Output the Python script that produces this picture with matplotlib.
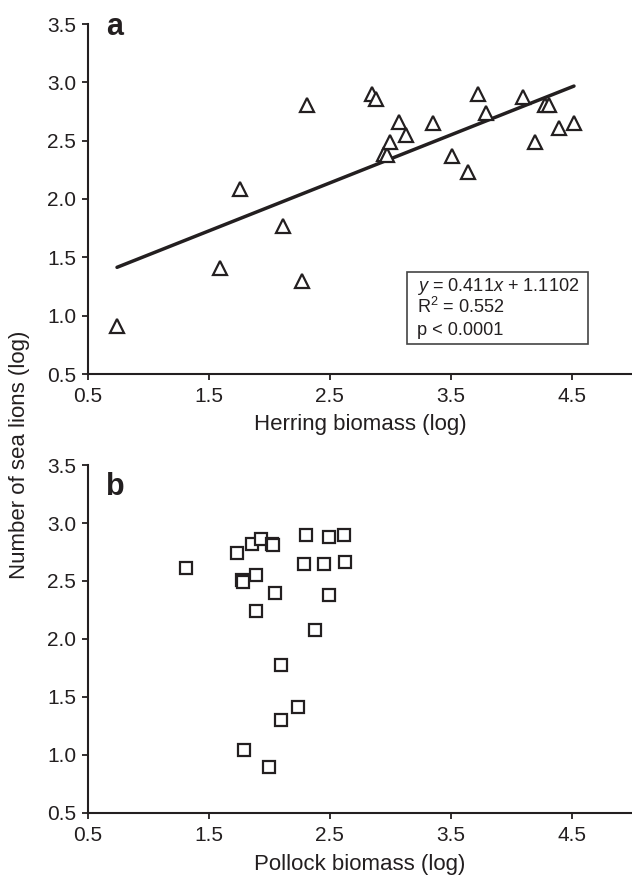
import matplotlib
matplotlib.use("Agg")
import matplotlib.pyplot as plt
import numpy as np
from matplotlib.patches import Rectangle

plt.rcParams['font.family'] = ['Liberation Sans', 'DejaVu Sans']
plt.rcParams['mathtext.fontset'] = 'custom'
plt.rcParams['mathtext.rm'] = 'Liberation Sans'
plt.rcParams['mathtext.it'] = 'Liberation Sans:italic'

# Panel a: herring biomass (log) vs number of sea lions (log)
herring_x = [0.74, 1.59, 1.76, 2.11, 2.27, 2.31, 2.85, 2.88, 2.95, 2.97, 3.00, 3.07,
             3.13, 3.35, 3.51, 3.64, 3.73, 3.79, 4.10, 4.20, 4.28, 4.31, 4.40, 4.52]
herring_y = [0.91, 1.41, 2.09, 1.77, 1.30, 2.81, 2.90, 2.86, 2.39, 2.38, 2.49, 2.66,
             2.55, 2.65, 2.37, 2.23, 2.90, 2.74, 2.87, 2.49, 2.81, 2.81, 2.61, 2.65]
slope = 0.411
intercept = 1.1102
eq_lines = [r"$\mathit{y}$ = 0.411$\mathit{x}$ + 1.1102", r"R$^{2}$ = 0.552", "p < 0.0001"]

# Panel b: pollock biomass (log) vs number of sea lions (log)
pollock_x = [1.31, 1.73, 1.77, 1.78, 1.86, 1.89, 1.89, 1.93, 2.02, 2.03, 2.05, 2.10,
             2.24, 2.10, 1.79, 2.00, 2.30, 2.29, 2.38, 2.45, 2.49, 2.49, 2.62, 2.63]
pollock_y = [2.61, 2.74, 2.51, 2.49, 2.82, 2.55, 2.24, 2.86, 2.82, 2.81, 2.40, 1.78,
             1.41, 1.30, 1.04, 0.90, 2.90, 2.65, 2.08, 2.65, 2.88, 2.38, 2.90, 2.66]

xticks = [0.5, 1.5, 2.5, 3.5, 4.5]
yticks = [0.5, 1.0, 1.5, 2.0, 2.5, 3.0, 3.5]

W, H = 632, 875
fig = plt.figure(figsize=(W / 100, H / 100), dpi=100)
ink = '#231f20'

def make_axes(top_px, bot_px):
    left = 88 / W
    right = 632 / W
    ax = fig.add_axes([left, 1 - bot_px / H, right - left, (bot_px - top_px) / H])
    ax.set_xlim(0.5, 5.0)
    ax.set_ylim(0.5, 3.5)
    ax.set_xticks(xticks)
    ax.set_yticks(yticks)
    ax.set_xticklabels([f"{t:.1f}" for t in xticks])
    ax.set_yticklabels([f"{t:.1f}" for t in yticks])
    for s in ['top', 'right']:
        ax.spines[s].set_visible(False)
    for s in ['left', 'bottom']:
        ax.spines[s].set_linewidth(1.5)
        ax.spines[s].set_color(ink)
    ax.tick_params(direction='out', length=4, width=1.3, colors=ink,
                   labelsize=15, labelcolor=ink)
    ax.tick_params(axis='x', pad=5.5)
    ax.tick_params(axis='y', pad=4.5)
    return ax

ax1 = make_axes(24, 374)
ax1.plot(herring_x, herring_y, linestyle='none', marker='^', markersize=9.5,
         markerfacecolor='white', markeredgecolor=ink, markeredgewidth=1.6, zorder=3)
xf = np.array([min(herring_x), max(herring_x)])
ax1.plot(xf, slope * xf + intercept, color=ink, linewidth=2.5, solid_capstyle='round', zorder=2)
ax1.set_xlabel("Herring biomass (log)", fontsize=16, color=ink, va='top')
ax1.xaxis.set_label_coords(0.5, -0.115)
fig.text(106 / W, 1 - 35 / H, "a", fontsize=22, fontweight='bold', color=ink,
         ha='left', va='baseline')

# equation box
bx0, bx1, by0, by1 = 407, 588, 272, 344
fig.patches.append(Rectangle((bx0 / W, 1 - by1 / H), (bx1 - bx0) / W, (by1 - by0) / H,
                             transform=fig.transFigure, fill=False, edgecolor='#444444',
                             linewidth=1.2, zorder=5))
for i, line in enumerate(eq_lines):
    fig.text(417 / W, 1 - (291 + i * 22) / H, line, fontsize=13.1, color=ink,
             ha='left', va='baseline')

ax2 = make_axes(465, 813)
ax2.plot(pollock_x, pollock_y, linestyle='none', marker='s', markersize=8,
         markerfacecolor='white', markeredgecolor=ink, markeredgewidth=1.6, zorder=3)
ax2.set_xlabel("Pollock biomass (log)", fontsize=16, color=ink, va='top')
ax2.xaxis.set_label_coords(0.5, -0.118)
fig.text(106 / W, 1 - 495 / H, "b", fontsize=22, fontweight='bold', color=ink,
         ha='left', va='baseline')

fig.text(20 / W, 1 - 455 / H, "Number of sea lions (log)", rotation=90, fontsize=16,
         color=ink, ha='center', va='center')

fig.savefig("out.png", dpi=100)
